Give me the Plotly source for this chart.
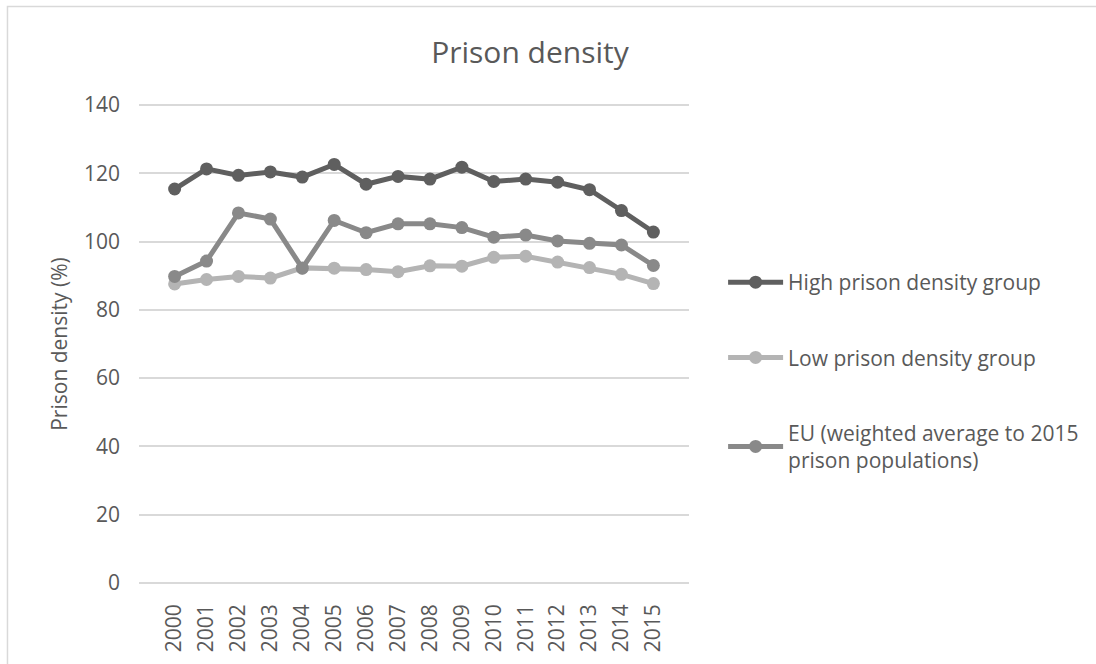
import plotly.graph_objects as go

years = [str(y) for y in range(2000, 2016)]

high_group = [115.4, 121.3, 119.4, 120.4, 118.9, 122.6, 116.8, 119.1,
              118.3, 121.8, 117.6, 118.3, 117.4, 115.2, 109.1, 102.8]
low_group = [87.6, 88.9, 89.8, 89.3, 92.3, 92.2, 91.8, 91.2,
             92.9, 92.8, 95.4, 95.7, 94.0, 92.4, 90.4, 87.7]
eu_weighted = [89.8, 94.3, 108.4, 106.6, 92.2, 106.2, 102.6, 105.2,
               105.2, 104.1, 101.3, 101.9, 100.2, 99.5, 99.0, 93.0]

series_names = [
    "High prison density group",
    "Low prison density group",
    "EU (weighted average to 2015<br>prison populations)",
]
series_values = [high_group, low_group, eu_weighted]
series_colors = ["#5f5f5f", "#b4b4b4", "#898989"]

y_ticks = [0, 20, 40, 60, 80, 100, 120, 140]

FONT = "Open Sans, Lato, DejaVu Sans, sans-serif"
TEXT = "#595959"
GRID = "#d9d9d9"

fig = go.Figure()
for i, (name, vals, col) in enumerate(zip(series_names, series_values, series_colors)):
    fig.add_trace(go.Scatter(
        x=years, y=vals, name=name, mode="lines+markers",
        line=dict(color=col, width=5),
        marker=dict(color=col, size=13),
        legendgroup=f"g{i}",
    ))

W, H = 1096, 664
L, R, T, B = 139, 405, 103, 76
pw, ph = W - L - R, H - T - B

# outer chart border
fig.add_shape(type="rect", xref="paper", yref="paper",
              x0=(7 - L) / pw, x1=(W + 20 - L) / pw,
              y0=-(B + 20) / ph, y1=(H - B - 6) / ph,
              line=dict(color=GRID, width=1.5), fillcolor="rgba(0,0,0,0)",
              layer="below")

fig.update_layout(
    width=W, height=H,
    margin=dict(l=L, r=R, t=T, b=B),
    paper_bgcolor="white", plot_bgcolor="white",
    font=dict(family=FONT, color=TEXT),
    title=dict(text="Prison density", x=530 / W, xanchor="center",
               y=1 - 52 / H, yanchor="middle",
               font=dict(size=30, color=TEXT, family=FONT)),
    xaxis=dict(type="category", tickangle=-90, showgrid=False,
               showline=False, zeroline=False, ticks="",
               tickfont=dict(size=21, color=TEXT), ticklabelstandoff=14),
    yaxis=dict(range=[-0.6, 140.6], tickvals=y_ticks, showgrid=True,
               gridcolor=GRID, gridwidth=1.5, zeroline=True,
               zerolinecolor=GRID, zerolinewidth=1.5,
               showline=False, ticks="",
               tickfont=dict(size=21, color=TEXT), ticklabelstandoff=18,
               title=dict(text="Prison density (%)", standoff=10,
                          font=dict(size=21, color=TEXT))),
    legend=dict(x=1.062, xanchor="left", y=(H - B - 263) / ph, yanchor="top",
                font=dict(size=21, color=TEXT), tracegroupgap=45,
                itemwidth=55, bgcolor="rgba(0,0,0,0)"),
    showlegend=True,
)

fig.write_html("out.html")
